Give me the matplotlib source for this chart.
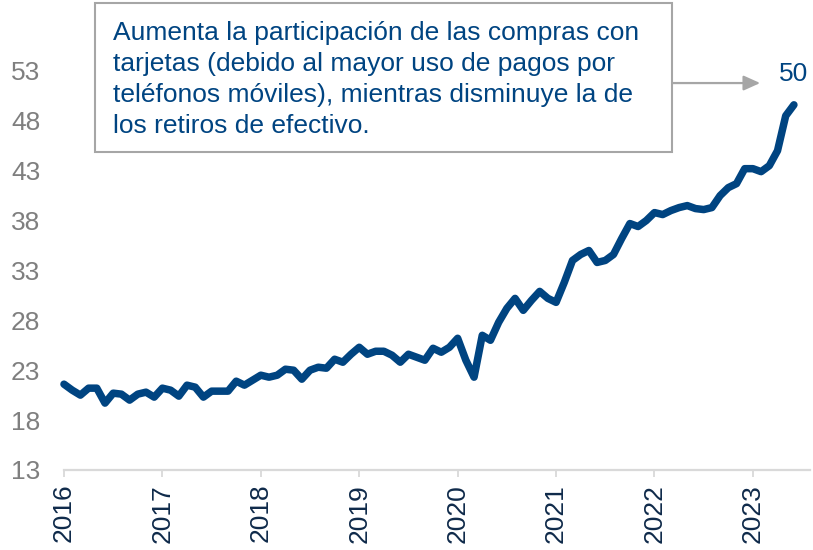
import matplotlib.pyplot as plt
from matplotlib.patches import Rectangle

plt.rcParams['font.family'] = ['Liberation Sans', 'DejaVu Sans']

# Monthly share (%) from Jan-2016 to Jun-2023
start_year = 2016
values = [
    21.6, 21.0, 20.5, 21.2, 21.2, 19.7, 20.7, 20.6, 20.0, 20.6, 20.8, 20.3,
    21.2, 21.0, 20.4, 21.5, 21.3, 20.3, 20.9, 20.9, 20.9, 21.9, 21.5, 22.0,
    22.5, 22.3, 22.5, 23.1, 23.0, 22.1, 23.0, 23.3, 23.2, 24.1, 23.8, 24.6,
    25.3, 24.6, 24.9, 24.9, 24.5, 23.8, 24.6, 24.3, 24.0, 25.2, 24.8, 25.3,
    26.2, 24.0, 22.3, 26.5, 26.0, 27.8, 29.2, 30.2, 29.0, 30.0, 30.9, 30.2,
    29.8, 31.8, 34.0, 34.6, 35.0, 33.8, 34.0, 34.6, 36.2, 37.7, 37.4, 38.0,
    38.8, 38.6, 39.0, 39.3, 39.5, 39.2, 39.1, 39.3, 40.5, 41.3, 41.7, 43.2,
    43.2, 42.9, 43.5, 45.0, 48.5, 49.6,
]
years = [2016, 2017, 2018, 2019, 2020, 2021, 2022, 2023]
y_ticks = [13, 18, 23, 28, 33, 38, 43, 48, 53]

note = ("Aumenta la participación de las compras con\n"
        "tarjetas (debido al mayor uso de pagos por\n"
        "teléfonos móviles), mientras disminuye la de\n"
        "los retiros de efectivo.")

blue = '#004481'
x = [start_year + i / 12 for i in range(len(values))]

fig = plt.figure(figsize=(8.13, 5.5), dpi=100)
ax = fig.add_axes([0.0787, 0.1455, 0.9176, 0.8163])

ax.plot(x, values, color=blue, lw=5.4, solid_joinstyle='round',
        solid_capstyle='round', clip_on=False)

ax.set_xlim(2016, 2023.58)
ax.set_ylim(13, 58)
ax.set_yticks(y_ticks)
ax.set_xticks(years)
ax.set_xticklabels([str(y) for y in years], rotation=90)

for side in ['top', 'right', 'left']:
    ax.spines[side].set_visible(False)
ax.spines['bottom'].set_color('#D9D9D9')
ax.spines['bottom'].set_linewidth(1.6)
ax.tick_params(axis='y', length=0, pad=17, labelsize=19, labelcolor='#7F7F7F')
ax.tick_params(axis='x', length=5, width=1.3, color='#D9D9D9', pad=5,
               labelsize=19, labelcolor='#0F2A4A')

# last value label
ax.annotate(f'{values[-1]:.0f}', xy=(x[-1], values[-1]), xytext=(0, 22),
            textcoords='offset points', ha='center', va='center',
            fontsize=19, color=blue)

# note box with arrow toward the last value
fig.patches.append(Rectangle((0.1169, 0.7236), 0.7097, 0.2709,
                             transform=fig.transFigure, fill=True, facecolor='white',
                             edgecolor='#A6A6A6', lw=1.5, zorder=5))
fig.text(0.139, 0.855, note, ha='left', va='center', fontsize=19,
         color=blue, linespacing=1.37, zorder=6)
fig.add_artist(plt.Annotation('', xy=(0.935, 0.849), xytext=(0.8266, 0.849),
                              xycoords='figure fraction', textcoords='figure fraction',
                              arrowprops=dict(arrowstyle='-|>,head_length=1.0,head_width=0.45',
                                              color='#A6A6A6', lw=1.6,
                                              shrinkA=0, shrinkB=0)))

fig.savefig('out.png', dpi=100)
